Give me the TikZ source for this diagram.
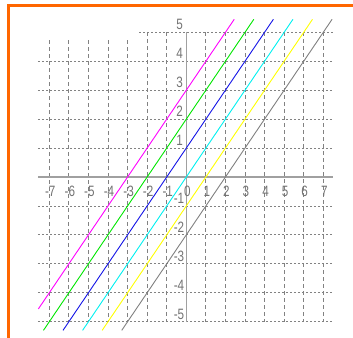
\documentclass[tikz,border=0pt]{standalone}
\usepackage{fontspec}
\setmainfont{Liberation Sans}
\definecolor{frame}{RGB}{255,102,0}
\definecolor{gridc}{RGB}{130,130,130}
\definecolor{axisc}{RGB}{160,160,160}
\definecolor{labc}{RGB}{115,115,115}
\definecolor{lmag}{RGB}{255,0,255}
\definecolor{lgrn}{RGB}{0,230,0}
\definecolor{lblu}{RGB}{20,20,230}
\definecolor{lcya}{RGB}{0,240,240}
\definecolor{lyel}{RGB}{255,255,0}
\definecolor{lgry}{RGB}{128,128,128}
\begin{document}
\begin{tikzpicture}[x=19.57pt,y=28.94pt,
  hgrid/.style={gridc,line width=0.8pt,dash pattern=on 2pt off 2pt},
  vgrid/.style={gridc,line width=0.8pt,dash pattern=on 4pt off 3pt},
  axisline/.style={axisc,line width=1.3pt},
  graphline/.style={line width=0.9pt},
  lab/.style={labc,inner sep=0pt,font=\fontsize{15}{15}\selectfont,xscale=0.78}]
\useasboundingbox (-9.52,-5.563) rectangle (8.518,6.116);
% orange frame
\draw[frame,line width=3pt] (-9.162,5.909) -- (8.6,5.909);
\draw[frame,line width=3pt] (-9.085,5.96) -- (-9.085,-5.6);
% grid
\foreach \k in {-5,...,4} \draw[hgrid] (-7.58,\k) -- (7.5,\k);
\draw[hgrid] (-2.4,5) -- (7.5,5);
\foreach \k in {-7,...,-3} \draw[vgrid] (\k,4.73) -- (\k,-5);
\foreach \k in {-2,-1,1,2,...,7} \draw[vgrid] (\k,5) -- (\k,-5);
% axes
\draw[axisline] (-7.58,0) -- (7.5,0);
\draw[axisline] (0,5) -- (0,-5);
% labels
\foreach \k in {-7,...,7} \node[lab] (x\k) at (\k+0.05,-0.51) {\k};
\foreach \k in {1,...,5} \node[lab,anchor=east] (y\k) at (-0.17,\k+0.26) {\k};
\foreach \k in {-5,...,-1} \node[lab,anchor=east] (y\k) at (-0.1,\k+0.26) {\k};
% graphs y = x + b
\draw[graphline,lmag] (-7.56,-4.56) -- (2.45,5.45);
\draw[graphline,lgrn] (-7.3,-5.3) -- (3.45,5.45);
\draw[graphline,lblu] (-6.3,-5.3) -- (4.45,5.45);
\draw[graphline,lcya] (-5.3,-5.3) -- (5.45,5.45);
\draw[graphline,lyel] (-4.3,-5.3) -- (6.45,5.45);
\draw[graphline,lgry] (-3.3,-5.3) -- (7.45,5.45);
\end{tikzpicture}
\end{document}
